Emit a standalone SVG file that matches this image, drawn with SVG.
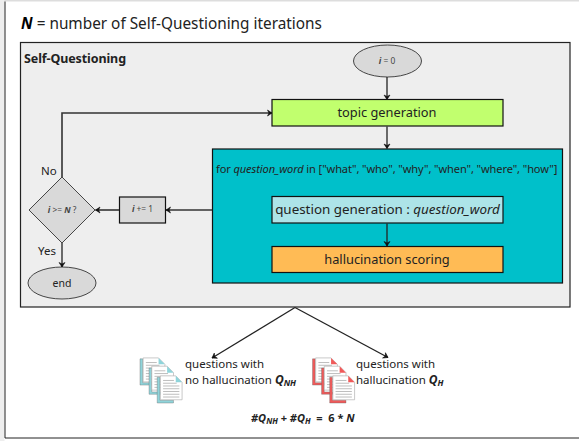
<svg xmlns="http://www.w3.org/2000/svg" width="579" height="441" viewBox="0 0 579 441">
<style>
text{font-family:"Noto Sans","Liberation Sans",sans-serif;fill:#222}
.h{font-size:15.350px}
.m{font-size:12.800px;text-anchor:middle}
.s{font-size:8.400px;text-anchor:middle;fill:#444}
.l{font-size:11.500px}
.box{stroke:#111;stroke-width:1.2}
.shape{fill:#d9d9d9;stroke:#333;stroke-width:.9}
.c{fill:none;stroke:#222;stroke-width:1.3;marker-end:url(#a)}
.t{fill:none;stroke:#333;stroke-width:1.6;marker-end:url(#a)}
.ln{stroke:#999;stroke-width:.7}
</style>
<defs>
<marker id="a" markerUnits="userSpaceOnUse" markerWidth="8" markerHeight="8" refX="6" refY="4" orient="auto"><path d="M1.500 1L6 4L1.500 7L3 4Z" fill="#111" stroke="#111" stroke-width=".6"/></marker>
<g id="page">
<path d="M0 0H17L24 7V26H0Z" fill="#fff" stroke="#aaa" stroke-width=".7"/>
<path d="M17 0L24 7H17Z" fill="var(--k)"/>
<path class="ln" d="M3 5H15M3 8H18M3 11H21M3 14H21M3 17H21M3 20H21M3 23H21"/>
</g>
<g id="docs">
<path d="M0 2H3V28H18V30.500H0Z" fill="var(--k)" stroke="#666" stroke-width=".4"/>
<use href="#page" x="3.500" y="1"/>
<path d="M10 12H13V38H28V40.500H10Z" fill="var(--k)" stroke="#666" stroke-width=".4"/>
<use href="#page" x="13" y="10"/>
<path d="M19 22H22V47H37V50H19Z" fill="var(--k)" stroke="#666" stroke-width=".4"/>
<use href="#page" x="22.500" y="20.500"/>
</g>
</defs>
<rect width="579" height="441" fill="#fff"/>
<rect x="0" y="0" width="579" height="1.500" fill="#ddd"/>
<rect x="0" y="0" width="4.500" height="441" fill="#eee"/>
<path d="M5 1.500V438H579" fill="none" stroke="#222" stroke-width="1"/>
<text class="h" x="21" y="29"><tspan font-weight="700" font-style="italic" fill="#000">N</tspan> = number of Self-Questioning iterations</text>
<g id="self-questioning">
<rect x="20.500" y="42.500" width="549.500" height="264.500" fill="#eee" stroke="#222" stroke-width="1.200"/>
<text x="24" y="63" font-size="12.500" font-weight="700" letter-spacing="-.1">Self-Questioning</text>
</g>
<g id="start"><ellipse class="shape" cx="387.500" cy="61" rx="34" ry="16"/><text class="s" x="387" y="64"><tspan font-style="italic" font-weight="700">i</tspan> = 0</text></g>
<g id="topic"><rect class="box" x="272" y="99.500" width="231" height="26.500" fill="#c1ff6e"/><text class="m" x="387" y="117">topic generation</text></g>
<g id="loop"><rect class="box" x="212.500" y="149" width="350" height="134" fill="#00c0ca"/><text x="216" y="173" font-size="11.050" letter-spacing="-.1">for <tspan font-style="italic">question_word</tspan> in ["what", "who", "why", "when", "where", "how"]</text></g>
<g id="question"><rect class="box" x="272" y="196.500" width="231" height="26.500" fill="#ade4e8"/><text class="m" x="387.500" y="214" style="font-size:13.400px">question generation : <tspan font-style="italic">question_word</tspan></text></g>
<g id="scoring"><rect class="box" x="272" y="246.500" width="231" height="26" fill="#ffbb55"/><text class="m" x="387" y="264">hallucination scoring</text></g>
<g id="increment"><rect class="box" x="119.500" y="197" width="46" height="26" fill="#d9d9d9"/><text class="s" x="142.500" y="212"><tspan font-style="italic" font-weight="700">i</tspan> += 1</text></g>
<g id="decision"><path class="shape" d="M62 177L95 210L62 243L29 210Z"/><text class="s" x="62" y="212.500"><tspan font-style="italic" font-weight="700">i</tspan> &gt;= <tspan font-style="italic" font-weight="700">N</tspan> ?</text></g>
<g id="end"><ellipse class="shape" cx="62" cy="283" rx="34" ry="16"/><text x="62" y="287" font-size="10.500" text-anchor="middle">end</text></g>
<g id="connectors">
<path class="c" d="M387 77V99.500"/>
<path class="c" d="M387 126.500V148.500"/>
<path class="c" d="M387 223.500V246"/>
<path class="t" d="M212 210H166"/>
<path class="t" d="M119 210H95.500"/>
<path class="t" d="M62 177V113H272"/>
<path class="c" d="M62 243V267"/>
<path class="c" d="M295 307.500L212 358"/>
<path class="c" d="M295 307.500L388 357.500"/>
</g>
<text class="l" x="41" y="174.500">No</text>
<text class="l" x="38" y="255">Yes</text>
<g id="docs-nh" style="--k:#8fd4da"><use href="#docs" transform="translate(140 357) scale(.905 .92)"/></g>
<g id="docs-h" style="--k:#f05a5a"><use href="#docs" transform="translate(312.500 357) scale(.905 .92)"/></g>
<g id="label-nh">
<text class="l" x="185" y="368">questions with</text>
<text class="l" x="185" y="384">no hallucination <tspan font-weight="700" font-style="italic" font-size="12">Q</tspan><tspan font-weight="700" font-style="italic" font-size="8.500" dy="2">NH</tspan></text>
</g>
<g id="label-h">
<text class="l" x="356" y="368">questions with</text>
<text class="l" x="356" y="384">hallucination <tspan font-weight="700" font-style="italic" font-size="12">Q</tspan><tspan font-weight="700" font-style="italic" font-size="8.500" dy="2">H</tspan></text>
</g>
<text x="251" y="422" font-size="11" font-weight="700" font-style="italic" xml:space="preserve">#Q<tspan font-size="8" dy="2">NH</tspan><tspan dy="-2" font-style="normal"> + </tspan>#Q<tspan font-size="8" dy="2">H</tspan><tspan dy="-2" font-style="normal">  =  6 * </tspan>N</text>
</svg>
